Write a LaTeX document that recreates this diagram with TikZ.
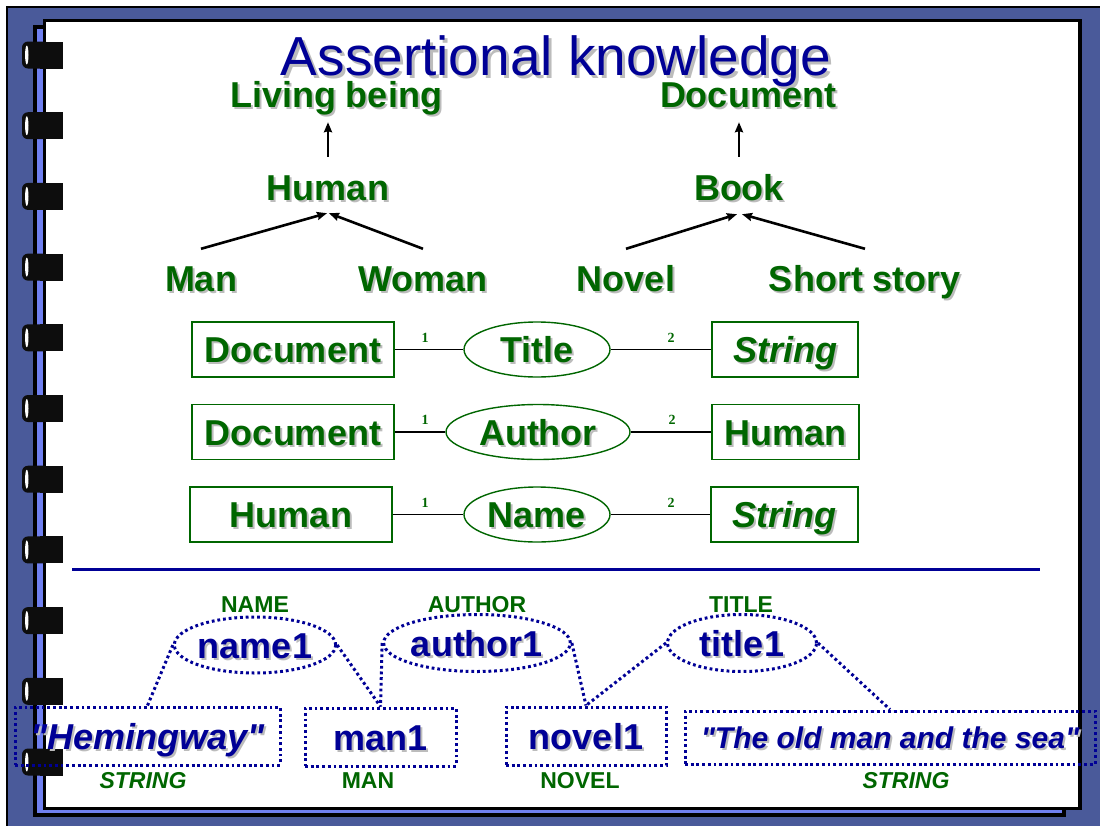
\documentclass[tikz,border=0pt]{standalone}
\usepackage{fontspec}
\setmainfont{Liberation Sans}
\newfontfamily\plainsans{Liberation Sans}
\newfontfamily\numfont{Liberation Serif}
\usetikzlibrary{arrows.meta,shapes.geometric,calc}

\definecolor{framebg}{RGB}{74,90,154}
\definecolor{pagestrip}{RGB}{112,128,240}
\definecolor{kgreen}{RGB}{0,102,0}
\definecolor{kblue}{RGB}{0,0,150}
\definecolor{shadowgray}{RGB}{188,188,188}

% text with a soft grey drop shadow
\newcommand\shd[1]{\leavevmode\rlap{\kern2pt\raisebox{-2pt}{\textcolor{shadowgray}{#1}}}#1}
\newcommand\shdbig[1]{\leavevmode\rlap{\kern3pt\raisebox{-3pt}{\textcolor{shadowgray}{#1}}}#1}
% straight double quote (no TeX quote mapping in this family)
\newcommand\sq{{\plainsans"}}

\tikzset{
  bigfont/.style={font=\fontsize{36}{40}\selectfont\bfseries},
  concept/.style={bigfont, text=kgreen, inner sep=0pt, text height=26pt, text depth=8pt, anchor=base},
  isa/.style={-{Stealth[length=10pt,width=8pt,inset=1pt]}, line width=2.6pt, black},
  entity/.style={bigfont, draw=kgreen, line width=1.4pt, text=kgreen, inner sep=0pt,
    text height=26pt, text depth=0pt, minimum height=55pt},
  relation/.style={entity, ellipse, minimum height=55pt},
  erline/.style={line width=1.4pt, black},
  card/.style={font=\numfont\bfseries\fontsize{14}{16}\selectfont, text=kgreen, inner sep=0pt},
  dotline/.style={draw=kblue, line width=3pt, dash pattern=on 2.8pt off 2.9pt},
  inst/.style={bigfont, dotline, text=kblue, inner sep=0pt, text height=26pt, text depth=0pt},
  instell/.style={inst, ellipse},
  typelbl/.style={font=\fontsize{23}{26}\selectfont\bfseries, text=kgreen, inner sep=0pt},
}

\begin{document}
\begin{tikzpicture}[x=1pt,y=-1pt]
\useasboundingbox (0,0) rectangle (1100,825);
\clip (0,0) rectangle (1100,825);

% notebook frame
\fill[white] (0,0) rectangle (1100,825);
\filldraw[fill=framebg, draw=black, line width=2.5pt] (7,7) rectangle (1112,837);
\filldraw[fill=pagestrip, draw=black, line width=4pt] (35,27) rectangle (1064,815);
\filldraw[fill=white, draw=black, line width=3.5pt] (44.5,20.5) rectangle (1080,808.5);

% spiral binding rings
\foreach \i in {0,...,10}{
  \pgfmathsetmacro\ry{55+70.7*\i}
  \fill[black!95, rounded corners=6pt] (22,\ry-13.5) rectangle (50,\ry+13.5);
  \fill[black!95] (40,\ry-13.5) rectangle (63,\ry+13.5);
  \fill[white] (26.8,\ry) ellipse [x radius=1.7pt, y radius=9.5pt];
}

% title
\node[font=\fontsize{55}{60}\selectfont, text=kblue, inner sep=0pt, anchor=base] (heading) at (556,75) {\shdbig{Assertional knowledge}};

% concept hierarchy
\node[concept] (living) at (336,107) {\shd{Living being}};
\node[concept] (document) at (748,107) {\shd{Document}};
\node[concept] (human) at (328,200) {\shd{Human}};
\node[concept] (book) at (739,200) {\shd{Book}};
\node[concept] (man) at (201,291) {\shd{Man}};
\node[concept] (woman) at (423,291) {\shd{Woman}};
\node[concept] (novel) at (626,291) {\shd{Novel}};
\node[concept] (short) at (865,291) {\shd{Short story}};

\draw[isa] ($(human.north)+(0,-17)$) -- ($(human.north |- living.south)+(0,7)$);
\draw[isa] ($(book.north)+(0,-17)$) -- ($(book.north |- document.south)+(0,7)$);
\draw[isa] ($(man.north)+(0,-16)$) -- ($(human.south)+(-1,5)$);
\draw[isa] ($(woman.north)+(0,-16)$) -- ($(human.south)+(1,5)$);
\draw[isa] ($(novel.north)+(0,-16)$) -- ($(book.south)+(-2,6)$);
\draw[isa] ($(short.north)+(0,-16)$) -- ($(book.south)+(3,6)$);

% roles between concepts
\node[entity, minimum width=202pt] (docA) at (293,349.5) {\shd{Document}};
\node[relation, minimum width=146pt] (titleR) at (537,349.5) {\shd{Title}};
\node[entity, minimum width=146pt] (strA) at (785,349.5) {\shd{\itshape String}};

\node[entity, minimum width=202pt] (docB) at (293,432) {\shd{Document}};
\node[relation, minimum width=184pt] (authorR) at (538,432) {\shd{Author}};
\node[entity, minimum width=147pt] (humB) at (785.5,432) {\shd{Human}};

\node[entity, minimum width=202pt] (humC) at (291,514.5) {\shd{Human}};
\node[relation, minimum width=146pt] (nameR) at (537,514.5) {\shd{Name}};
\node[entity, minimum width=147pt] (strC) at (784.5,514.5) {\shd{\itshape String}};

\draw[erline] (docA) -- (titleR);
\draw[erline] (titleR) -- (strA);
\draw[erline] (docB) -- (authorR);
\draw[erline] (authorR) -- (humB);
\draw[erline] (humC) -- (nameR);
\draw[erline] (nameR) -- (strC);

\node[card] (cA1) at (425,338) {1};
\node[card] (cA2) at (671,338) {2};
\node[card] (cB1) at (425,420) {1};
\node[card] (cB2) at (672,420) {2};
\node[card] (cC1) at (425,503) {1};
\node[card] (cC2) at (671,503) {2};

% separator between terminology and assertions
\coordinate (sepL) at (72,569);
\coordinate (sepR) at (1040,569);
\draw[kblue, line width=3pt] (sepL) -- (sepR);

% individuals and role instances
\node[instell, minimum width=150pt, minimum height=56pt] (name1) at (255,645) {\shd{name1}};
\node[instell, minimum width=178pt, minimum height=57pt] (author1) at (477,643) {\shd{author1}};
\node[instell, minimum width=149pt, minimum height=57pt] (title1) at (742,643) {\shd{title1}};

\node[inst, minimum width=265pt, minimum height=58pt] (hem) at (147.5,736) {\shd{\itshape\sq Hemingway\sq}};
\node[inst, minimum width=151pt, minimum height=58pt] (man1) at (380.5,737) {\shd{man1}};
\node[inst, minimum width=160pt, minimum height=58pt] (novel1) at (586,736) {\shd{novel1}};
\node[inst, font=\fontsize{30}{34}\selectfont\bfseries\itshape, text height=22pt, minimum width=410pt, minimum height=53pt] (oldman) at (890,737.5) {\shd{\sq The old man and the sea\sq}};

\draw[dotline] (hem.north) -- (name1.west);
\draw[dotline] (name1.east) -- (man1.north);
\draw[dotline] (author1.west) -- (man1.north);
\draw[dotline] (author1.east) -- (novel1.north);
\draw[dotline] (title1.west) -- (novel1.north);
\draw[dotline] (title1.east) -- (oldman.north);

\node[typelbl] (tName) at (255,605) {NAME};
\node[typelbl] (tAuthor) at (477,605) {AUTHOR};
\node[typelbl] (tTitle) at (741,605) {TITLE};
\node[typelbl, font=\fontsize{23}{26}\selectfont\bfseries\itshape] (tStr1) at (143,781) {STRING};
\node[typelbl] (tMan) at (368,781) {MAN};
\node[typelbl] (tNovel) at (580,781) {NOVEL};
\node[typelbl, font=\fontsize{23}{26}\selectfont\bfseries\itshape] (tStr2) at (906,781) {STRING};
\end{tikzpicture}
\end{document}
